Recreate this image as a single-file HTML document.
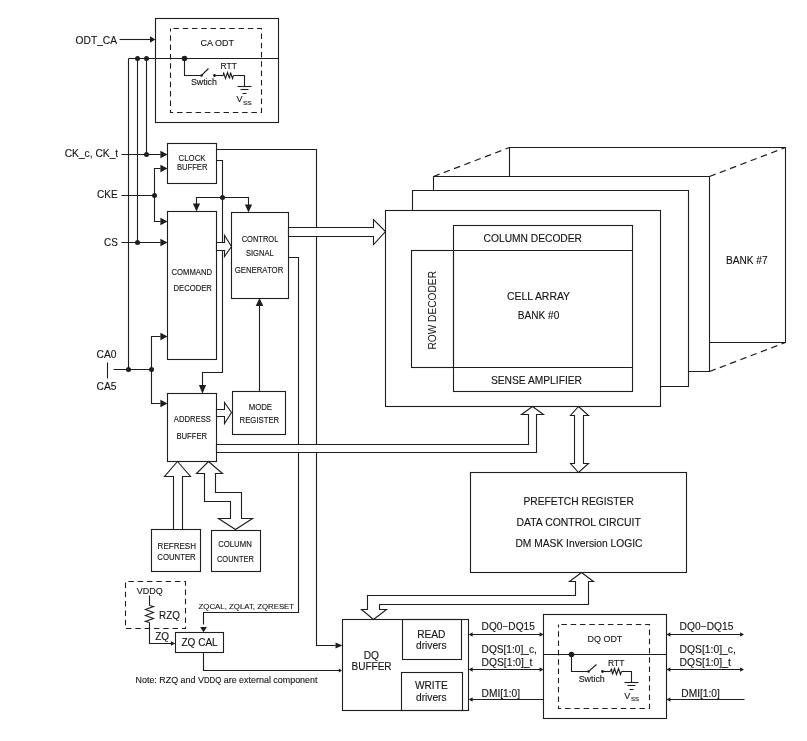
<!DOCTYPE html><html><head><meta charset="utf-8"><style>html,body{margin:0;padding:0;background:#fff;}svg{display:block;font-family:"Liberation Sans",sans-serif;will-change:transform;}</style></head><body>
<svg width="807" height="741" viewBox="0 0 807 741">
<rect x="0" y="0" width="807" height="741" fill="#fff"/>
<g fill="none" stroke="#1e1e1e" stroke-width="1.1" stroke-linejoin="miter">
<text x="75.6" y="43.8" font-size="10.2" fill="#141414" stroke="#141414" stroke-width="0.12" text-anchor="start" textLength="41.4" lengthAdjust="spacingAndGlyphs">ODT_CA</text>
<polyline points="119.5,39.5 150.5,39.5"/>
<polygon points="155.5,39.5 150.0,36.3 150.0,42.7" fill="#1e1e1e" stroke="none"/>
<rect x="155.5" y="18.5" width="123.0" height="104.0"/>
<rect x="170.5" y="28.5" width="91.0" height="84.0" stroke-dasharray="5.5,3.8" stroke-dashoffset="6.4"/>
<text x="200.4" y="45.8" font-size="9.2" fill="#141414" stroke="#141414" stroke-width="0.12" text-anchor="start" textLength="33.5" lengthAdjust="spacingAndGlyphs">CA ODT</text>
<polyline points="128.5,58.5 278.5,58.5"/>
<circle cx="137.5" cy="58.5" r="2.5" fill="#1e1e1e" stroke="none"/>
<circle cx="146.5" cy="58.5" r="2.5" fill="#1e1e1e" stroke="none"/>
<polyline points="128.5,58.5 128.5,369.5"/>
<polyline points="137.5,58.5 137.5,242.5"/>
<polyline points="146.5,58.5 146.5,154.5"/>
<circle cx="184.5" cy="58.5" r="2.8" fill="#1e1e1e" stroke="none"/>
<polyline points="184.5,58.5 184.5,75.5 201.5,75.5 208.5,68.5"/>
<circle cx="201.5" cy="75.5" r="1.3" fill="#1e1e1e" stroke="none"/>
<circle cx="214.5" cy="75.5" r="1.4" fill="#1e1e1e" stroke="none"/>
<polyline points="214.5,75.5 223.5,75.5"/>
<polyline points="223.5,75.5 223.5,72.5 225.5,78.5 227.5,72.5 229.5,78.5 230.5,72.5 232.5,78.5 233.5,75.5"/>
<polyline points="233.5,75.5 244.5,75.5 244.5,86.5"/>
<polyline points="237.5,86.5 251.5,86.5"/>
<polyline points="240.5,89.5 248.5,89.5"/>
<polyline points="242.5,93.5 246.5,93.5"/>
<text x="220.6" y="69.3" font-size="8.4" fill="#141414" stroke="#141414" stroke-width="0.12" text-anchor="start" textLength="16.2" lengthAdjust="spacingAndGlyphs">RTT</text>
<text x="190.9" y="85.2" font-size="8.8" fill="#141414" stroke="#141414" stroke-width="0.12" text-anchor="start" textLength="26.1" lengthAdjust="spacingAndGlyphs">Swtich</text>
<text x="236.5" y="102" font-size="9.4" fill="#141414" stroke="#141414" stroke-width="0.12" text-anchor="start" textLength="6.0" lengthAdjust="spacingAndGlyphs">V</text>
<text x="242.9" y="104.5" font-size="5.8" fill="#141414" stroke="#141414" stroke-width="0.12" text-anchor="start" textLength="8.9" lengthAdjust="spacingAndGlyphs">SS</text>
<text x="64.7" y="157.4" font-size="10.2" fill="#141414" stroke="#141414" stroke-width="0.12" text-anchor="start" textLength="53.5" lengthAdjust="spacingAndGlyphs">CK_c, CK_t</text>
<polyline points="121.5,154.5 160.5,154.5"/>
<circle cx="146.5" cy="154.5" r="2.5" fill="#1e1e1e" stroke="none"/>
<polygon points="167.6,154.5 160.4,150.8 160.4,158.2" fill="#1e1e1e" stroke="none"/>
<text x="97.1" y="198" font-size="10.2" fill="#141414" stroke="#141414" stroke-width="0.12" text-anchor="start" textLength="20.7" lengthAdjust="spacingAndGlyphs">CKE</text>
<polyline points="121.5,195.5 154.5,195.5"/>
<circle cx="154.5" cy="195.5" r="2.5" fill="#1e1e1e" stroke="none"/>
<polyline points="160.5,168.5 154.5,168.5 154.5,221.5 160.5,221.5"/>
<polygon points="167.6,168.5 160.4,164.8 160.4,172.2" fill="#1e1e1e" stroke="none"/>
<polygon points="167.6,221.5 160.4,217.8 160.4,225.2" fill="#1e1e1e" stroke="none"/>
<text x="104.1" y="245.9" font-size="10.2" fill="#141414" stroke="#141414" stroke-width="0.12" text-anchor="start" textLength="13.8" lengthAdjust="spacingAndGlyphs">CS</text>
<polyline points="121.5,242.5 160.5,242.5"/>
<circle cx="137.5" cy="242.5" r="2.5" fill="#1e1e1e" stroke="none"/>
<polygon points="167.6,242.5 160.4,238.8 160.4,246.2" fill="#1e1e1e" stroke="none"/>
<text x="96.5" y="358.1" font-size="10.2" fill="#141414" stroke="#141414" stroke-width="0.12" text-anchor="start" textLength="20" lengthAdjust="spacingAndGlyphs">CA0</text>
<text x="96.5" y="389.8" font-size="10.2" fill="#141414" stroke="#141414" stroke-width="0.12" text-anchor="start" textLength="20" lengthAdjust="spacingAndGlyphs">CA5</text>
<polyline points="107.5,362.5 107.5,378.5"/>
<polyline points="113.5,369.5 151.5,369.5"/>
<circle cx="128.5" cy="369.5" r="2.5" fill="#1e1e1e" stroke="none"/>
<circle cx="151.5" cy="369.5" r="2.5" fill="#1e1e1e" stroke="none"/>
<polyline points="160.5,336.5 151.5,336.5 151.5,403.5 160.5,403.5"/>
<polygon points="167.6,336.5 160.4,332.8 160.4,340.2" fill="#1e1e1e" stroke="none"/>
<polygon points="167.6,403.5 160.4,399.8 160.4,407.2" fill="#1e1e1e" stroke="none"/>
<rect x="167.5" y="143.5" width="49.0" height="40.0"/>
<text x="178.6" y="161.2" font-size="8.3" fill="#141414" stroke="#141414" stroke-width="0.12" text-anchor="start" textLength="27" lengthAdjust="spacingAndGlyphs">CLOCK</text>
<text x="176.9" y="170.2" font-size="8.3" fill="#141414" stroke="#141414" stroke-width="0.12" text-anchor="start" textLength="30.6" lengthAdjust="spacingAndGlyphs">BUFFER</text>
<polyline points="216.5,149.5 316.5,149.5 316.5,645.5 335.5,645.5"/>
<polygon points="342.5,645.5 335.5,642.5 335.5,648.5" fill="#1e1e1e" stroke="none"/>
<polyline points="216.5,160.5 222.5,160.5 222.5,372.5 202.5,372.5 202.5,386.5"/>
<polygon points="202.5,393.8 198.9,385.0 206.1,385.0" fill="#1e1e1e" stroke="none"/>
<circle cx="222.5" cy="197.5" r="2.5" fill="#1e1e1e" stroke="none"/>
<polyline points="196.5,205.5 196.5,197.5 248.5,197.5 248.5,205.5"/>
<polygon points="196.5,211.5 192.9,203.5 200.1,203.5" fill="#1e1e1e" stroke="none"/>
<polygon points="248.5,212.6 244.9,204.6 252.1,204.6" fill="#1e1e1e" stroke="none"/>
<rect x="167.5" y="211.5" width="49.0" height="148.0"/>
<text x="171.5" y="275" font-size="8.3" fill="#141414" stroke="#141414" stroke-width="0.12" text-anchor="start" textLength="40.6" lengthAdjust="spacingAndGlyphs">COMMAND</text>
<text x="173.6" y="291.2" font-size="8.3" fill="#141414" stroke="#141414" stroke-width="0.12" text-anchor="start" textLength="38.3" lengthAdjust="spacingAndGlyphs">DECODER</text>
<rect x="231.5" y="212.5" width="57.0" height="86.0"/>
<text x="241.7" y="241.5" font-size="8.3" fill="#141414" stroke="#141414" stroke-width="0.12" text-anchor="start" textLength="36.7" lengthAdjust="spacingAndGlyphs">CONTROL</text>
<text x="246" y="256.2" font-size="8.3" fill="#141414" stroke="#141414" stroke-width="0.12" text-anchor="start" textLength="27.6" lengthAdjust="spacingAndGlyphs">SIGNAL</text>
<text x="234.7" y="273.4" font-size="8.3" fill="#141414" stroke="#141414" stroke-width="0.12" text-anchor="start" textLength="48.6" lengthAdjust="spacingAndGlyphs">GENERATOR</text>
<polygon points="216.5,242.5 224.5,242.5 224.5,235.5 231.5,246.5 224.5,256.5 224.5,250.5 216.5,250.5" fill="#fff"/>
<polyline points="288.5,257.5 298.5,257.5 298.5,612.5 203.5,612.5 203.5,624.5"/>
<polygon points="203.5,632.3 200.1,627.1 206.9,627.1" fill="#1e1e1e" stroke="none"/>
<polygon points="288.5,227.5 373.5,227.5 373.5,219.5 385.5,231.5 373.5,244.5 373.5,236.5 288.5,236.5" fill="#fff"/>
<rect x="167.5" y="393.5" width="49.0" height="68.0"/>
<text x="173.8" y="422.4" font-size="8.3" fill="#141414" stroke="#141414" stroke-width="0.12" text-anchor="start" textLength="37.2" lengthAdjust="spacingAndGlyphs">ADDRESS</text>
<text x="176.4" y="438.8" font-size="8.3" fill="#141414" stroke="#141414" stroke-width="0.12" text-anchor="start" textLength="30.7" lengthAdjust="spacingAndGlyphs">BUFFER</text>
<rect x="232.5" y="391.5" width="53.0" height="43.0"/>
<text x="248.7" y="410.1" font-size="8.3" fill="#141414" stroke="#141414" stroke-width="0.12" text-anchor="start" textLength="23.4" lengthAdjust="spacingAndGlyphs">MODE</text>
<text x="239.6" y="423.2" font-size="8.3" fill="#141414" stroke="#141414" stroke-width="0.12" text-anchor="start" textLength="39.6" lengthAdjust="spacingAndGlyphs">REGISTER</text>
<polyline points="259.5,391.5 259.5,305.5"/>
<polygon points="259.5,298 255.7,306 263.3,306" fill="#1e1e1e" stroke="none"/>
<polygon points="216.5,409.5 224.5,409.5 224.5,402.5 231.5,412.5 224.5,423.5 224.5,416.5 216.5,416.5" fill="#fff"/>
<polygon points="216.5,444.5 528.5,444.5 528.5,414.5 521.5,414.5 532.5,406.5 543.5,414.5 536.5,414.5 536.5,452.5 216.5,452.5" fill="#fff"/>
<rect x="151.5" y="529.5" width="49.0" height="42.0"/>
<text x="157.6" y="549.1" font-size="8.3" fill="#141414" stroke="#141414" stroke-width="0.12" text-anchor="start" textLength="38.4" lengthAdjust="spacingAndGlyphs">REFRESH</text>
<text x="157.3" y="560.3" font-size="8.3" fill="#141414" stroke="#141414" stroke-width="0.12" text-anchor="start" textLength="38.4" lengthAdjust="spacingAndGlyphs">COUNTER</text>
<rect x="211.5" y="530.5" width="49.0" height="41.0"/>
<text x="218.2" y="547.4" font-size="8.3" fill="#141414" stroke="#141414" stroke-width="0.12" text-anchor="start" textLength="33.6" lengthAdjust="spacingAndGlyphs">COLUMN</text>
<text x="217" y="561.5" font-size="8.3" fill="#141414" stroke="#141414" stroke-width="0.12" text-anchor="start" textLength="36.8" lengthAdjust="spacingAndGlyphs">COUNTER</text>
<polygon points="173.5,529.5 173.5,476.5 164.5,476.5 177.5,461.5 190.5,476.5 182.5,476.5 182.5,529.5" fill="#fff"/>
<polygon points="208.5,461.5 222.5,473.5 215.5,473.5 215.5,492.5 241.5,492.5 241.5,518.5 252.5,518.5 235.5,529.5 218.5,518.5 230.5,518.5 230.5,501.5 204.5,501.5 204.5,473.5 196.5,473.5" fill="#fff"/>
<rect x="125.5" y="581.5" width="60.0" height="47.0" stroke-dasharray="5.5,3.8" stroke-dashoffset="6.4"/>
<text x="136.8" y="594.1" font-size="9.2" fill="#141414" stroke="#141414" stroke-width="0.12" text-anchor="start" textLength="25.9" lengthAdjust="spacingAndGlyphs">VDDQ</text>
<polyline points="149.5,595.5 149.5,605.5"/>
<polyline points="149.5,605.5 153.5,606.5 145.5,609.5 153.5,612.5 145.5,615.5 153.5,618.5 145.5,621.5 149.5,622.5"/>
<polyline points="149.5,622.5 149.5,643.5 172.5,643.5"/>
<polygon points="175.3,643.5 170.8,641.2 170.8,645.8" fill="#1e1e1e" stroke="none"/>
<text x="159" y="619.2" font-size="10.2" fill="#141414" stroke="#141414" stroke-width="0.12" text-anchor="start" textLength="20.9" lengthAdjust="spacingAndGlyphs">RZQ</text>
<text x="155.2" y="639.9" font-size="10.2" fill="#141414" stroke="#141414" stroke-width="0.12" text-anchor="start" textLength="13.9" lengthAdjust="spacingAndGlyphs">ZQ</text>
<rect x="175.5" y="632.5" width="48.0" height="20.0"/>
<text x="181.4" y="646.1" font-size="10.2" fill="#141414" stroke="#141414" stroke-width="0.12" text-anchor="start" textLength="36.3" lengthAdjust="spacingAndGlyphs">ZQ CAL</text>
<text x="198.6" y="609.1" font-size="7.7" fill="#141414" stroke="#141414" stroke-width="0.12" text-anchor="start" textLength="95.5" lengthAdjust="spacingAndGlyphs">ZQCAL, ZQLAT, ZQRESET</text>
<polyline points="203.5,652.5 203.5,670.5 339.5,670.5"/>
<polygon points="342,670.5 338.8,668.5 338.8,672.5" fill="#1e1e1e" stroke="none"/>
<text x="135.5" y="683.4" font-size="9.6" fill="#141414" stroke="#141414" stroke-width="0.12" text-anchor="start" textLength="182" lengthAdjust="spacingAndGlyphs">Note: RZQ and V<tspan font-size="8.4">DDQ</tspan> are external component</text>
<polyline points="433.5,190.5 433.5,176.5 709.5,176.5 709.5,371.5 688.5,371.5"/>
<polyline points="412.5,210.5 412.5,190.5 688.5,190.5 688.5,386.5 660.5,386.5"/>
<polyline points="509.5,176.5 509.5,147.5 785.5,147.5 785.5,342.5 709.5,342.5"/>
<polyline points="433.5,176.5 509.5,147.5" stroke-dasharray="6.5,4.5" stroke-width="1.2"/>
<polyline points="709.5,176.5 785.5,147.5" stroke-dasharray="6.5,4.5" stroke-width="1.2"/>
<polyline points="709.5,371.5 785.5,342.5" stroke-dasharray="6.5,4.5" stroke-width="1.2"/>
<text x="726" y="264" font-size="10.0" fill="#141414" stroke="#141414" stroke-width="0.12" text-anchor="start" textLength="41.6" lengthAdjust="spacingAndGlyphs">BANK #7</text>
<rect x="385.5" y="210.5" width="275.0" height="196.0"/>
<rect x="453.5" y="225.5" width="179.0" height="166.0"/>
<polyline points="453.5,250.5 632.5,250.5"/>
<polyline points="453.5,367.5 632.5,367.5"/>
<rect x="411.5" y="250.5" width="42.0" height="117.0"/>
<text x="483.6" y="242.4" font-size="10.0" fill="#141414" stroke="#141414" stroke-width="0.12" text-anchor="start" textLength="98.4" lengthAdjust="spacingAndGlyphs">COLUMN DECODER</text>
<text x="506.9" y="300.1" font-size="10.0" fill="#141414" stroke="#141414" stroke-width="0.12" text-anchor="start" textLength="63.2" lengthAdjust="spacingAndGlyphs">CELL ARRAY</text>
<text x="517.7" y="319" font-size="10.0" fill="#141414" stroke="#141414" stroke-width="0.12" text-anchor="start" textLength="41.6" lengthAdjust="spacingAndGlyphs">BANK #0</text>
<text x="490.9" y="383.7" font-size="10.0" fill="#141414" stroke="#141414" stroke-width="0.12" text-anchor="start" textLength="91.1" lengthAdjust="spacingAndGlyphs">SENSE AMPLIFIER</text>
<text x="0" y="0" font-size="10" stroke="none" fill="#141414" textLength="78.6" lengthAdjust="spacingAndGlyphs" transform="translate(435.6,349.6) rotate(-90)">ROW DECODER</text>
<polygon points="578.5,406.5 588.5,415.5 583.5,415.5 583.5,463.5 588.5,463.5 578.5,472.5 570.5,463.5 574.5,463.5 574.5,415.5 570.5,415.5" fill="#fff"/>
<rect x="470.5" y="472.5" width="216.0" height="100.0"/>
<text x="523.5" y="504.6" font-size="10.2" fill="#141414" stroke="#141414" stroke-width="0.12" text-anchor="start" textLength="110.3" lengthAdjust="spacingAndGlyphs">PREFETCH REGISTER</text>
<text x="516.6" y="525.9" font-size="10.2" fill="#141414" stroke="#141414" stroke-width="0.12" text-anchor="start" textLength="124.2" lengthAdjust="spacingAndGlyphs">DATA CONTROL CIRCUIT</text>
<text x="515.4" y="547.0" font-size="10.2" fill="#141414" stroke="#141414" stroke-width="0.12" text-anchor="start" textLength="127.1" lengthAdjust="spacingAndGlyphs">DM MASK Inversion LOGIC</text>
<polygon points="581.5,572.5 593.5,581.5 588.5,581.5 588.5,604.5 379.5,604.5 379.5,609.5 386.5,609.5 373.5,619.5 361.5,609.5 367.5,609.5 367.5,595.5 575.5,595.5 575.5,581.5 569.5,581.5" fill="#fff"/>
<rect x="342.5" y="619.5" width="126.0" height="91.0"/>
<rect x="402.5" y="619.5" width="59.0" height="40.0"/>
<rect x="401.5" y="672.5" width="61.0" height="38.0"/>
<text x="371.3" y="658.6" font-size="10.2" fill="#141414" stroke="#141414" stroke-width="0.12" text-anchor="middle">DQ</text>
<text x="351.5" y="670" font-size="10.2" fill="#141414" stroke="#141414" stroke-width="0.12" text-anchor="start" textLength="40.1" lengthAdjust="spacingAndGlyphs">BUFFER</text>
<text x="431.3" y="637.5" font-size="10.2" fill="#141414" stroke="#141414" stroke-width="0.12" text-anchor="middle">READ</text>
<text x="431.3" y="648.6" font-size="10.2" fill="#141414" stroke="#141414" stroke-width="0.12" text-anchor="middle">drivers</text>
<text x="431.3" y="689" font-size="10.2" fill="#141414" stroke="#141414" stroke-width="0.12" text-anchor="middle">WRITE</text>
<text x="431.3" y="701.4" font-size="10.2" fill="#141414" stroke="#141414" stroke-width="0.12" text-anchor="middle">drivers</text>
<text x="481.6" y="629.7" font-size="10.2" fill="#141414" stroke="#141414" stroke-width="0.12" text-anchor="start" textLength="53.2" lengthAdjust="spacingAndGlyphs">DQ0−DQ15</text>
<polyline points="471.5,634.5 540.5,634.5"/>
<polygon points="468.7,634.5 472.6,632.3 472.6,636.7" fill="#1e1e1e" stroke="none"/>
<polygon points="543.5,634.5 539.6,632.3 539.6,636.7" fill="#1e1e1e" stroke="none"/>
<text x="481.6" y="653.3" font-size="10.2" fill="#141414" stroke="#141414" stroke-width="0.12" text-anchor="start" textLength="55.2" lengthAdjust="spacingAndGlyphs">DQS[1:0]_c,</text>
<text x="481.6" y="665.7" font-size="10.2" fill="#141414" stroke="#141414" stroke-width="0.12" text-anchor="start" textLength="50.8" lengthAdjust="spacingAndGlyphs">DQS[1:0]_t</text>
<polyline points="471.5,669.5 540.5,669.5"/>
<polygon points="468.7,669.5 472.6,667.3 472.6,671.7" fill="#1e1e1e" stroke="none"/>
<polygon points="543.5,669.5 539.6,667.3 539.6,671.7" fill="#1e1e1e" stroke="none"/>
<text x="481.6" y="696.7" font-size="10.2" fill="#141414" stroke="#141414" stroke-width="0.12" text-anchor="start" textLength="38.4" lengthAdjust="spacingAndGlyphs">DMI[1:0]</text>
<polyline points="471.5,699.5 543.5,699.5"/>
<polygon points="468.7,699.5 472.6,697.3 472.6,701.7" fill="#1e1e1e" stroke="none"/>
<rect x="543.5" y="614.5" width="123.0" height="104.0"/>
<rect x="558.5" y="624.5" width="91.0" height="84.0" stroke-dasharray="5.5,3.8" stroke-dashoffset="6.4"/>
<text x="587.6" y="642.2" font-size="9.2" fill="#141414" stroke="#141414" stroke-width="0.12" text-anchor="start" textLength="34.7" lengthAdjust="spacingAndGlyphs">DQ ODT</text>
<polyline points="543.5,654.5 666.5,654.5"/>
<circle cx="571.5" cy="654.5" r="2.8" fill="#1e1e1e" stroke="none"/>
<polyline points="571.5,654.5 571.5,671.5 588.5,671.5 596.5,664.5"/>
<circle cx="588.5" cy="671.5" r="1.3" fill="#1e1e1e" stroke="none"/>
<circle cx="602.5" cy="671.5" r="1.4" fill="#1e1e1e" stroke="none"/>
<polyline points="602.5,671.5 610.5,671.5"/>
<polyline points="610.5,671.5 611.5,668.5 612.5,674.5 614.5,668.5 616.5,674.5 618.5,668.5 620.5,674.5 621.5,671.5"/>
<polyline points="621.5,671.5 631.5,671.5 631.5,682.5"/>
<polyline points="624.5,682.5 638.5,682.5"/>
<polyline points="627.5,685.5 635.5,685.5"/>
<polyline points="629.5,689.5 633.5,689.5"/>
<text x="608.1" y="665.5" font-size="8.4" fill="#141414" stroke="#141414" stroke-width="0.12" text-anchor="start" textLength="16.2" lengthAdjust="spacingAndGlyphs">RTT</text>
<text x="578.7" y="681.7" font-size="8.8" fill="#141414" stroke="#141414" stroke-width="0.12" text-anchor="start" textLength="26.1" lengthAdjust="spacingAndGlyphs">Swtich</text>
<text x="624.3" y="698.5" font-size="9.4" fill="#141414" stroke="#141414" stroke-width="0.12" text-anchor="start" textLength="6.0" lengthAdjust="spacingAndGlyphs">V</text>
<text x="630.9" y="700.5" font-size="5.8" fill="#141414" stroke="#141414" stroke-width="0.12" text-anchor="start" textLength="8.2" lengthAdjust="spacingAndGlyphs">SS</text>
<text x="679.6" y="629.7" font-size="10.2" fill="#141414" stroke="#141414" stroke-width="0.12" text-anchor="start" textLength="53.8" lengthAdjust="spacingAndGlyphs">DQ0−DQ15</text>
<polyline points="669.5,634.5 741.5,634.5"/>
<polygon points="666.5,634.5 670.4,632.3 670.4,636.7" fill="#1e1e1e" stroke="none"/>
<polygon points="744,634.5 740.1,632.3 740.1,636.7" fill="#1e1e1e" stroke="none"/>
<text x="679.6" y="653.3" font-size="10.2" fill="#141414" stroke="#141414" stroke-width="0.12" text-anchor="start" textLength="56.3" lengthAdjust="spacingAndGlyphs">DQS[1:0]_c,</text>
<text x="679.6" y="665.7" font-size="10.2" fill="#141414" stroke="#141414" stroke-width="0.12" text-anchor="start" textLength="51.3" lengthAdjust="spacingAndGlyphs">DQS[1:0]_t</text>
<polyline points="669.5,669.5 741.5,669.5"/>
<polygon points="666.5,669.5 670.4,667.3 670.4,671.7" fill="#1e1e1e" stroke="none"/>
<polygon points="744,669.5 740.1,667.3 740.1,671.7" fill="#1e1e1e" stroke="none"/>
<text x="681.3" y="696.7" font-size="10.2" fill="#141414" stroke="#141414" stroke-width="0.12" text-anchor="start" textLength="38.5" lengthAdjust="spacingAndGlyphs">DMI[1:0]</text>
<polyline points="669.5,699.5 744.5,699.5"/>
<polygon points="666.5,699.5 670.4,697.3 670.4,701.7" fill="#1e1e1e" stroke="none"/>
</g></svg></body></html>
